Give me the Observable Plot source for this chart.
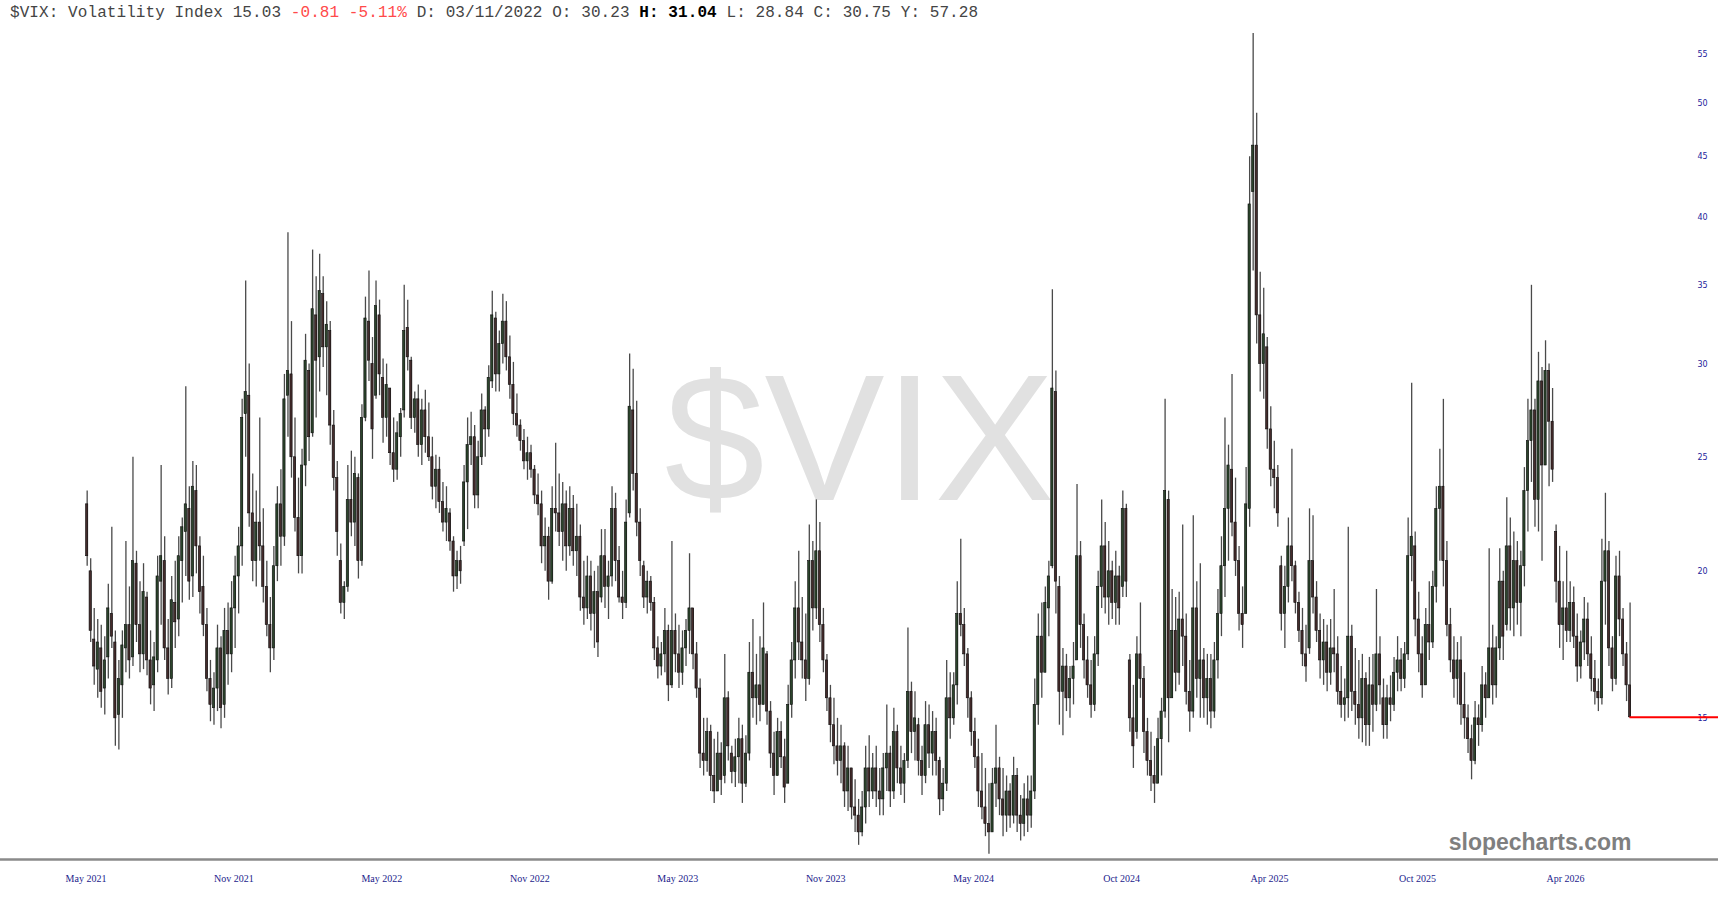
<!DOCTYPE html>
<html>
<head>
<meta charset="utf-8">
<script src="https://cdn.jsdelivr.net/npm/d3@7"></script>
<script src="https://cdn.jsdelivr.net/npm/@observablehq/plot@0.6"></script>
<style>
  html, body { margin: 0; padding: 0; background: #fff; overflow: hidden; }
  #wrap { position: relative; width: 1718px; height: 900px; }
  #hdr { position: absolute; left: 10px; top: 5px; font: 16px/16px "Liberation Mono", "DejaVu Sans Mono", monospace; letter-spacing: 0.08px; color: #444; white-space: pre; z-index: 2; }
  #hdr .neg { color: #ff4a4a; }
  #hdr b { color: #000; }
</style>
</head>
<body>
<div id="wrap"><div id="hdr"></div></div>
<script>
// ---- header text ----
const symbol = "$VIX";
const headerName = "Volatility Index";
const lastPrice = "15.03";
const changeText = ["-0.81", "-5.11%"];
const cursorFields = [["D:", "03/11/2022"], ["O:", "30.23"], ["H:", "31.04"], ["L:", "28.84"], ["C:", "30.75"], ["Y:", "57.28"]];

// ---- axis ticks ----
const xTickLabels = ["May 2021","Nov 2021","May 2022","Nov 2022","May 2023","Nov 2023","May 2024","Oct 2024","Apr 2025","Oct 2025","Apr 2026"];
const xTickIdx = [0,126,252,378,504,630,756,882,1008,1134,1260]; // trading-day index
const yTicks = [15,20,25,30,35,40,45,50,55];
const lastClose = 15.03;

// ---- 3-trading-day candles (open, high, low, close) ----
const H = [
23.4,20.5,18.6,18.2,18.0,17.6,19.5,21.8,17.8,16.8,
17.8,21.2,19.4,25.0,20.8,19.6,20.3,19.2,17.8,17.4,
20.6,24.6,21.4,18.2,19.8,20.4,21.4,22.2,28.7,23.6,
24.8,24.6,21.4,20.6,18.6,16.8,16.4,18.0,17.6,18.6,
18.8,19.6,20.6,21.8,28.0,35.3,30.0,24.2,23.4,27.0,
22.6,20.4,19.0,21.0,23.6,24.4,29.4,38.8,32.6,27.0,
24.0,25.4,31.8,30.0,37.5,35.6,37.2,35.6,33.9,32.6,
27.4,24.8,21.1,19.6,24.6,25.3,25.0,24.2,27.7,34.2,
36.0,31.6,35.3,34.0,30.3,30.0,28.6,27.0,26.8,27.5,
35.0,34.0,30.4,28.4,28.8,28.0,28.5,27.8,26.0,25.1,
25.0,23.8,23.6,22.6,21.4,20.8,21.0,24.6,27.0,27.3,
26.6,25.8,28.3,27.6,29.9,34.6,33.2,32.0,34.4,33.9,
31.7,30.1,28.3,26.9,26.4,26.0,25.6,24.6,24.2,23.4,
22.2,21.8,23.6,25.7,24.2,23.8,23.4,23.6,23.2,22.8,
21.9,20.4,20.6,20.4,20.0,20.2,21.7,21.7,20.4,23.6,
23.3,21.0,20.0,23.0,30.6,29.7,27.9,22.6,20.4,20.0,
19.8,19.0,17.6,17.4,18.6,18.0,21.2,18.4,18.0,17.8,
18.2,20.7,18.6,17.4,16.2,15.0,15.0,14.8,14.4,14.6,
14.3,17.0,15.8,14.2,14.4,15.0,14.8,14.5,17.4,18.2,
17.0,17.6,18.8,17.1,15.5,14.6,15.0,14.9,14.4,16.0,
17.4,19.6,20.8,19.0,18.4,21.9,21.2,23.0,22.0,18.6,
17.0,16.0,15.6,15.0,14.8,14.3,14.2,13.6,13.3,12.8,
13.0,14.2,14.5,14.0,14.2,13.6,14.0,15.4,14.2,15.3,
14.8,14.2,14.0,17.9,16.1,15.8,15.0,14.2,15.5,15.4,
15.2,15.0,13.9,13.6,16.8,16.4,16.4,19.6,21.3,18.6,
17.2,15.8,15.0,14.4,14.0,13.6,13.2,13.6,14.8,13.9,
13.6,13.4,13.2,13.9,13.6,12.9,13.2,13.4,13.4,16.2,
18.4,18.8,19.4,20.4,34.7,29.6,19.8,17.2,17.0,16.6,
17.4,23.7,21.2,18.4,17.6,16.8,17.6,20.0,23.0,22.0,
21.2,20.4,20.8,20.2,23.4,22.8,17.0,16.0,17.6,18.8,
16.6,15.0,14.6,14.2,15.0,15.6,28.0,23.4,19.3,19.0,
19.2,21.9,18.4,16.8,22.3,19.6,20.3,17.2,17.0,17.0,
17.4,19.3,21.4,27.0,25.6,29.4,24.0,21.0,19.4,24.5,
45.0,57.3,49.0,35.9,34.8,31.6,27.6,25.8,24.6,20.6,
20.2,22.2,25.4,20.4,19.2,18.6,18.0,22.6,22.3,19.6,
18.4,18.2,18.0,18.2,19.3,17.6,16.6,16.2,21.8,18.0,
17.2,16.8,17.0,16.4,16.9,17.0,19.3,17.6,16.2,16.0,
16.3,16.9,17.6,17.2,17.4,22.2,28.9,21.6,19.2,17.6,
18.6,19.6,20.0,23.6,25.4,28.0,21.2,18.6,17.6,17.4,
17.6,16.4,15.4,14.8,15.5,15.4,16.6,16.4,20.9,18.0,
17.6,20.9,20.0,23.1,22.2,21.6,21.2,20.8,24.5,28.0,
35.0,28.0,30.7,29.8,31.4,30.0,28.6,21.9,21.0,19.6,
20.8,19.6,19.4,18.4,17.8,19.0,18.8,17.6,16.8,16.2,
21.3,23.3,21.2,17.6,20.6,20.8,18.6,17.4,18.8
];
const L = [
20.2,17.4,16.0,15.6,15.3,15.1,16.2,17.2,14.2,14.1,
15.0,16.4,16.2,16.6,17.4,16.4,16.5,16.3,15.4,15.2,
16.4,18.0,16.8,15.7,15.9,17.2,17.6,18.8,19.8,18.9,
19.0,19.9,18.4,17.6,15.8,14.9,14.8,15.2,14.7,15.0,
16.0,16.4,17.2,18.4,20.2,25.0,21.8,19.6,19.4,20.4,
18.8,17.6,16.4,16.8,19.6,20.2,21.0,26.0,24.0,21.6,
19.9,19.9,23.6,24.8,26.0,27.0,28.4,29.8,28.2,25.6,
23.4,20.6,18.4,18.2,19.2,21.4,21.0,19.7,20.2,26.8,
29.0,24.9,28.0,28.2,25.7,26.0,24.6,23.8,23.9,25.0,
27.0,29.6,26.4,26.2,25.0,24.6,25.2,24.8,23.0,22.6,
22.4,21.6,21.2,20.8,19.2,19.3,19.5,21.0,21.7,24.6,
22.6,22.6,24.6,25.0,26.0,28.6,28.4,28.4,30.0,29.6,
28.0,26.6,26.0,25.3,24.4,23.9,24.0,22.8,22.3,20.3,
20.0,18.9,19.5,21.6,21.0,20.4,20.0,20.6,20.2,19.8,
18.5,18.0,18.2,17.8,17.2,16.9,18.8,18.6,18.2,19.4,
19.6,18.8,18.2,18.6,22.2,23.4,21.4,19.8,18.6,18.4,
18.5,16.8,16.2,16.3,16.4,15.5,15.9,16.4,15.9,16.0,
16.6,17.0,16.5,15.6,13.6,13.4,13.5,13.0,12.7,13.0,
12.9,13.2,13.8,13.2,13.1,13.2,12.7,13.1,13.8,15.0,
14.8,14.9,15.4,14.8,13.6,12.9,13.4,13.6,12.7,13.2,
15.0,16.2,16.8,16.2,15.5,16.0,17.8,18.2,17.4,16.4,
15.2,14.3,13.7,13.4,13.2,12.6,12.5,12.3,12.0,11.7,
11.9,12.2,12.6,12.8,12.6,12.4,12.4,13.0,12.6,12.8,
13.2,12.9,12.7,13.6,14.0,13.8,13.4,12.9,13.2,13.6,
13.4,13.4,12.4,12.5,13.0,14.4,14.8,15.4,17.6,16.6,
15.0,14.2,13.6,12.6,12.3,11.9,11.5,12.0,12.6,12.4,
11.9,12.0,12.1,12.2,12.0,11.8,11.9,12.0,12.1,12.8,
14.8,15.6,16.4,17.6,20.1,18.4,14.8,14.5,15.2,15.0,
15.4,16.8,17.2,16.2,15.6,15.0,15.2,16.6,18.6,18.4,
18.0,18.2,18.0,18.0,19.0,19.0,14.6,13.6,14.4,15.6,
14.0,13.4,13.0,12.7,13.2,13.4,15.0,14.3,15.6,15.8,
16.0,16.6,15.4,14.6,15.0,15.6,15.0,15.0,14.8,14.7,
15.0,16.2,17.6,19.0,20.4,21.4,19.8,17.8,17.2,18.4,
21.8,36.0,31.2,28.4,28.0,25.4,23.6,22.6,21.8,17.8,
17.2,18.8,19.6,18.4,17.4,16.6,16.1,17.0,18.4,17.4,
16.2,16.0,15.8,16.0,16.4,15.4,15.0,14.9,15.0,15.2,
14.8,14.4,14.3,14.2,14.2,14.6,15.2,15.4,14.4,14.4,
14.9,15.2,15.8,15.8,15.9,16.8,19.6,17.6,16.4,15.6,
16.0,16.8,17.2,18.8,20.4,19.4,17.6,16.4,15.6,15.4,
14.8,14.4,14.0,13.3,13.7,14.2,14.6,15.0,15.6,15.4,
15.6,16.8,16.8,17.8,17.8,17.6,18.0,17.6,19.4,21.6,
23.8,21.8,21.6,20.4,24.6,23.6,23.8,18.8,17.2,16.8,
17.4,17.4,17.2,16.1,16.2,16.8,16.6,15.8,15.4,15.2,
15.4,18.0,16.6,15.8,16.0,17.6,16.6,15.5,15.0
];
const O = [
22.8,20.0,17.5,16.5,17.2,15.9,16.9,18.4,17.4,15.1,
16.0,17.2,18.0,16.9,20.3,18.0,17.0,19.0,16.8,16.0,
16.8,19.6,20.4,17.2,16.2,18.8,18.2,20.4,21.6,22.6,
19.8,23.4,21.0,19.4,18.0,16.2,15.3,15.9,17.2,15.4,
17.8,17.0,18.6,19.8,21.0,27.2,28.2,22.4,20.4,22.0,
21.0,19.4,18.0,17.2,20.2,22.8,21.4,28.2,29.4,25.0,
22.2,20.6,24.6,29.6,26.2,33.0,30.4,34.4,31.0,32.0,
26.6,24.0,20.4,18.8,19.4,23.0,22.0,24.0,20.4,27.0,
32.6,30.0,28.2,33.0,29.2,27.0,28.6,25.2,24.4,26.0,
27.4,32.2,30.2,27.0,28.0,25.6,27.4,26.0,25.0,23.6,
24.4,22.9,22.0,22.4,21.2,19.8,20.4,21.2,23.8,25.6,
26.0,23.2,25.0,27.4,26.4,29.0,32.8,29.4,31.2,32.6,
30.4,28.8,27.2,26.6,25.8,24.8,25.2,24.4,23.2,22.8,
21.0,21.4,19.6,22.6,22.4,21.6,22.8,21.0,22.6,20.8,
21.4,19.0,18.6,19.8,18.4,19.2,19.0,20.6,19.4,19.8,
22.6,20.4,19.0,18.8,22.4,27.4,24.2,22.0,20.2,19.0,
19.6,18.8,17.2,16.6,17.0,17.8,16.0,17.8,17.0,16.4,
17.2,17.8,18.6,17.0,15.9,14.0,13.8,14.6,13.4,13.0,
14.0,13.4,15.6,14.0,13.5,13.9,14.4,13.2,14.0,16.4,
15.6,16.0,15.4,17.0,15.2,14.0,13.4,14.6,13.9,13.2,
15.4,16.8,18.6,17.4,16.8,16.2,20.4,18.6,20.8,18.0,
16.8,15.6,14.8,14.2,13.8,14.2,13.0,13.6,12.6,12.4,
12.0,12.6,13.6,13.0,13.6,13.0,12.8,13.6,14.0,13.0,
14.6,13.6,13.2,13.8,15.8,14.6,14.8,13.8,13.4,14.8,
14.0,14.6,13.8,12.8,13.2,15.6,15.0,16.0,18.4,18.0,
17.0,15.6,14.6,13.9,13.0,12.6,12.2,12.0,13.2,13.6,
12.8,12.4,13.0,12.4,13.4,12.4,12.2,12.8,12.4,13.0,
15.4,17.6,16.4,18.6,20.2,28.4,19.4,15.8,16.6,15.6,
16.2,16.8,20.6,18.0,16.8,16.0,15.4,17.0,19.4,21.0,
19.0,20.0,18.8,19.8,19.4,22.6,16.8,15.0,14.6,17.0,
16.2,14.6,13.8,13.4,13.2,14.4,15.2,23.0,15.6,17.8,
16.4,18.2,17.6,15.8,15.2,18.6,16.2,16.8,15.6,16.2,
15.2,16.8,18.4,20.2,22.6,24.4,22.0,20.4,18.4,18.4,
22.6,42.0,46.0,33.0,30.0,31.0,26.4,24.4,24.0,20.2,
18.4,19.4,21.0,20.2,18.8,17.8,17.0,17.2,20.4,19.0,
17.8,16.8,17.4,16.4,17.2,17.0,15.8,15.4,15.6,17.6,
15.8,15.4,15.0,16.2,14.8,16.0,15.4,17.0,15.6,14.8,
15.6,15.4,16.4,16.8,16.2,17.0,20.6,21.0,18.2,17.0,
16.0,18.0,17.4,19.4,22.6,23.6,20.4,18.0,16.8,16.2,
16.8,15.4,15.0,14.4,13.8,15.0,14.8,16.0,15.6,17.2,
16.0,17.2,19.6,18.0,21.0,18.6,20.4,18.8,20.2,23.4,
25.8,27.4,23.0,29.0,24.6,29.6,26.8,21.6,19.6,18.0,
18.6,17.8,18.8,17.6,16.6,17.4,18.2,17.0,16.2,15.8,
15.6,19.6,20.8,17.2,16.2,19.8,18.2,17.0,16.0
];
const C = [
20.6,17.8,16.6,17.4,15.8,16.8,18.6,17.6,15.0,16.2,
17.3,18.0,16.8,20.4,18.0,17.0,19.2,16.8,15.9,16.9,
19.8,20.6,17.2,16.2,18.9,18.1,20.6,21.8,22.8,19.6,
23.6,21.0,19.2,18.0,16.2,15.4,15.9,17.2,15.3,17.8,
17.0,18.6,19.8,21.0,27.0,28.4,22.4,20.4,22.0,21.0,
19.4,18.0,17.2,20.2,22.8,21.4,28.0,29.6,25.0,22.2,
20.6,24.6,30.2,26.0,33.4,30.2,34.6,31.0,32.4,26.6,
24.0,21.6,18.8,19.4,23.0,22.0,24.2,20.4,27.0,32.8,
30.2,26.4,33.6,29.4,27.0,28.8,25.2,24.4,26.2,27.2,
32.0,30.4,27.0,28.0,25.6,27.4,26.0,25.0,23.6,24.4,
22.9,22.0,22.6,21.2,19.8,20.4,20.0,23.8,25.6,26.0,
23.2,25.0,27.4,26.4,29.2,33.0,29.4,31.2,32.6,30.4,
28.8,27.2,26.6,25.8,24.8,25.2,24.4,23.2,22.8,21.0,
21.4,19.6,22.6,22.4,21.6,22.8,21.0,22.6,20.8,21.4,
19.0,18.6,19.8,18.4,19.2,17.4,20.6,19.4,19.8,22.6,
20.4,19.0,18.8,22.0,27.6,24.2,22.0,20.4,19.0,19.6,
18.8,17.2,16.6,17.0,17.8,16.0,17.8,17.0,16.4,17.2,
17.8,18.6,17.0,15.9,14.0,13.8,14.6,13.4,13.0,14.0,
13.3,15.6,14.2,13.5,13.9,14.4,13.2,14.0,16.4,15.6,
16.0,15.4,17.2,15.2,14.0,13.4,14.6,13.9,13.1,15.4,
16.8,18.6,17.4,16.8,16.2,20.4,18.6,20.8,18.0,16.8,
15.6,14.8,14.2,13.8,14.2,13.0,13.6,12.6,12.4,12.0,
12.6,13.6,13.0,13.6,13.0,12.8,13.6,14.0,13.0,14.6,
13.6,13.2,13.8,15.8,14.6,15.0,13.8,13.4,14.8,14.0,
14.6,13.8,12.8,13.2,15.6,15.0,16.0,18.4,18.0,17.0,
15.6,14.6,13.9,13.0,12.6,12.2,12.0,13.2,13.6,12.8,
12.4,13.0,12.4,13.4,12.4,12.2,12.8,12.4,13.0,15.4,
17.6,16.4,18.8,19.8,28.6,19.6,15.8,16.6,15.6,16.2,
16.6,20.6,18.0,16.8,16.0,15.4,17.0,19.4,21.0,19.0,
20.0,18.8,19.8,18.6,22.6,19.6,15.0,14.2,17.0,16.2,
14.6,13.8,13.4,13.2,14.4,15.2,23.4,15.6,17.8,16.4,
18.2,17.6,15.8,15.2,18.6,16.2,16.8,15.6,16.2,15.2,
16.8,18.4,20.2,22.6,24.6,22.0,20.4,18.4,18.0,22.8,
41.0,46.0,33.0,30.0,31.8,26.4,24.4,24.0,22.4,18.4,
19.4,21.0,20.2,18.8,17.8,17.0,16.6,20.4,19.0,17.8,
16.8,17.4,16.4,17.2,17.0,15.8,15.4,15.6,17.6,15.8,
15.4,15.0,16.2,14.8,16.0,15.4,17.0,16.0,14.8,15.6,
15.4,16.4,16.8,16.2,17.0,20.6,21.4,18.2,17.0,16.0,
18.0,17.4,19.4,22.6,23.6,20.4,18.0,16.8,16.2,16.8,
15.4,15.0,14.4,13.8,15.0,14.8,16.0,15.6,17.2,16.0,
17.2,19.6,17.6,21.0,18.6,20.4,18.8,20.2,23.4,25.8,
27.4,23.0,29.0,24.6,29.6,26.8,24.4,19.6,18.0,18.6,
17.8,18.8,17.6,16.6,17.4,18.2,17.0,16.2,15.8,15.6,
19.6,20.8,17.2,16.2,19.8,18.2,17.0,16.0,15.03
];

// ---- header ----
const hdr = document.getElementById("hdr");
const f = cursorFields.map(([k, v]) => k === "H:" ? `<b>${k} ${v}</b>` : `${k} ${v}`);
hdr.innerHTML = `${symbol}: ${headerName} ${lastPrice} <span class="neg">${changeText.join(" ")}</span> ${f.join(" ")}`;

// ---- rows ----
const rows = H.map((h, k) => ({i: 3 * k + 1, o: O[k], h, l: L[k], c: C[k]}));
const upRows = rows.filter(d => d.c >= d.o);
const downRows = rows.filter(d => d.c < d.o);
const lastI = rows[rows.length - 1].i;

const xDomain = [-72.81, 1390.3];
const yDomain = [11.38, 58.19];
const halfW = 0.95;

const chart = Plot.plot({
  width: 1718,
  height: 900,
  marginTop: 25,
  marginBottom: 41,
  marginLeft: 0,
  marginRight: 0,
  style: {background: "#fff", overflow: "visible"},
  x: {type: "linear", domain: xDomain, axis: null},
  y: {type: "log", domain: yDomain, axis: null},
  marks: [
    Plot.text([symbol], {frameAnchor: "middle", text: d => d, fontSize: 180, fill: "#e1e1e1", fontFamily: "Liberation Sans, Arial, sans-serif"}),
    Plot.ruleX(rows, {x: "i", y1: "l", y2: "h", stroke: "#4a4a4a", strokeWidth: 1.3}),
    Plot.rect(upRows, {x1: d => d.i - halfW, x2: d => d.i + halfW, y1: "o", y2: "c", fill: "#2c452c", stroke: "#0a0a0a", strokeWidth: 0.6}),
    Plot.rect(downRows, {x1: d => d.i - halfW, x2: d => d.i + halfW, y1: "o", y2: "c", fill: "#452c2c", stroke: "#0a0a0a", strokeWidth: 0.6}),
    Plot.ruleY([yDomain[0]], {stroke: "#8a8a8a", strokeWidth: 2.5}),
    Plot.text(yTicks, {y: d => d, frameAnchor: "right", dx: -16, textAnchor: "middle", text: d => String(d), fontSize: 8, fill: "#24249c", fontFamily: "DejaVu Sans, sans-serif"}),
    Plot.ruleY([{y: lastClose, x1: lastI, x2: xDomain[1]}], {y: "y", x1: "x1", x2: "x2", stroke: "#ff0000", strokeWidth: 2}),
    Plot.text(xTickIdx, {x: d => d, frameAnchor: "bottom", dy: 22, text: (d, i) => xTickLabels[i], fontSize: 10, fill: "#1c1c8c", fontFamily: "Liberation Serif, Times New Roman, serif"}),
    Plot.text(["slopecharts.com"], {frameAnchor: "bottom-right", dx: -87, dy: -10, lineAnchor: "bottom", textAnchor: "end", text: d => d, fontSize: 23, fontWeight: "bold", fill: "#7f7f7f", fontFamily: "Liberation Sans, Arial, sans-serif"})
  ]
});
document.getElementById("wrap").appendChild(chart);
</script>
</body>
</html>
